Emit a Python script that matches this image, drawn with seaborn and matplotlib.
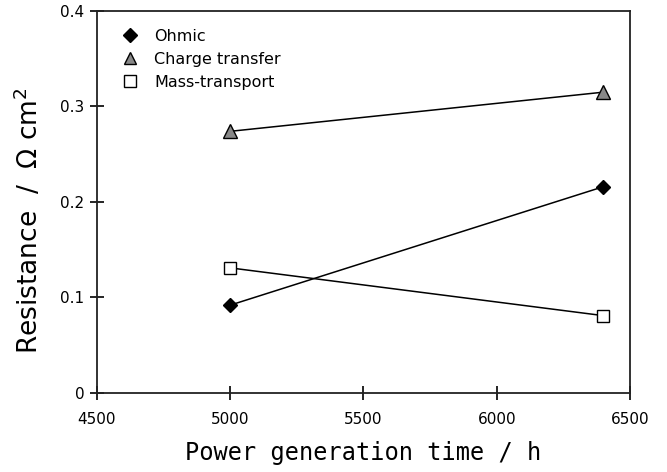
import matplotlib
matplotlib.use("Agg")
import matplotlib.pyplot as plt
import seaborn as sns
import pandas as pd
from matplotlib.lines import Line2D

hours = [5000, 6400]
ohmic = [0.092, 0.216]
charge_transfer = [0.274, 0.315]
mass_transport = [0.131, 0.081]
series_names = ["Ohmic", "Charge transfer", "Mass-transport"]

sns.set_style("ticks")
plt.rcParams["font.family"] = ["DejaVu Sans"]
plt.rcParams["text.color"] = "black"
plt.rcParams["axes.labelcolor"] = "black"

fig = plt.figure(figsize=(6.67, 4.72), dpi=100)
ax = fig.add_axes([0.1454, 0.1674, 0.7991, 0.8093])

styles = {
    "Ohmic": dict(marker="D", mfc="black", mec="black", ms=7.5),
    "Charge transfer": dict(marker="^", mfc="#888888", mec="black", ms=9.5),
    "Mass-transport": dict(marker="s", mfc="white", mec="black", ms=8.5),
}
values = {"Ohmic": ohmic, "Charge transfer": charge_transfer, "Mass-transport": mass_transport}

for name in series_names:
    df = pd.DataFrame({"h": hours, "r": values[name]})
    st = styles[name]
    sns.lineplot(data=df, x="h", y="r", ax=ax, color="black", linewidth=1.1,
                 marker=st["marker"], markersize=st["ms"], markerfacecolor=st["mfc"],
                 markeredgecolor=st["mec"], markeredgewidth=1.0, legend=False)

ax.set_xlim(4500, 6500)
ax.set_ylim(0, 0.4)
ax.set_xticks([4500, 5000, 5500, 6000, 6500])
ax.set_yticks([0, 0.1, 0.2, 0.3, 0.4])
ax.set_yticklabels(["0", "0.1", "0.2", "0.3", "0.4"])
ax.tick_params(direction="inout", length=10, width=1.2, labelsize=11, colors="black")
for s in ax.spines.values():
    s.set_linewidth(1.3)
    s.set_color("#222222")
ax.tick_params(axis="x", pad=9)
ax.tick_params(axis="y", pad=4)

ax.set_xlabel("Power generation time / h", fontsize=17, family=["DejaVu Sans Mono"],
              labelpad=10, color="black")
ax.set_ylabel("Resistance  /  \u03a9 cm$^2$", fontsize=19, family=["DejaVu Sans"], color="black")
ax.yaxis.set_label_coords(-0.10, 0.45)

handles = [Line2D([], [], linestyle="none", marker=styles[n]["marker"],
                  markerfacecolor=styles[n]["mfc"], markeredgecolor="black",
                  markersize=styles[n]["ms"] * 0.95) for n in series_names]
leg = ax.legend(handles, series_names, loc="upper left", frameon=False, fontsize=11.5,
                handletextpad=1.0, labelspacing=0.5, borderaxespad=0.0, handlelength=1.0,
                bbox_to_anchor=(0.035, 0.97))
for t in leg.get_texts():
    t.set_color("black")

fig.savefig("out.png", dpi=100)
